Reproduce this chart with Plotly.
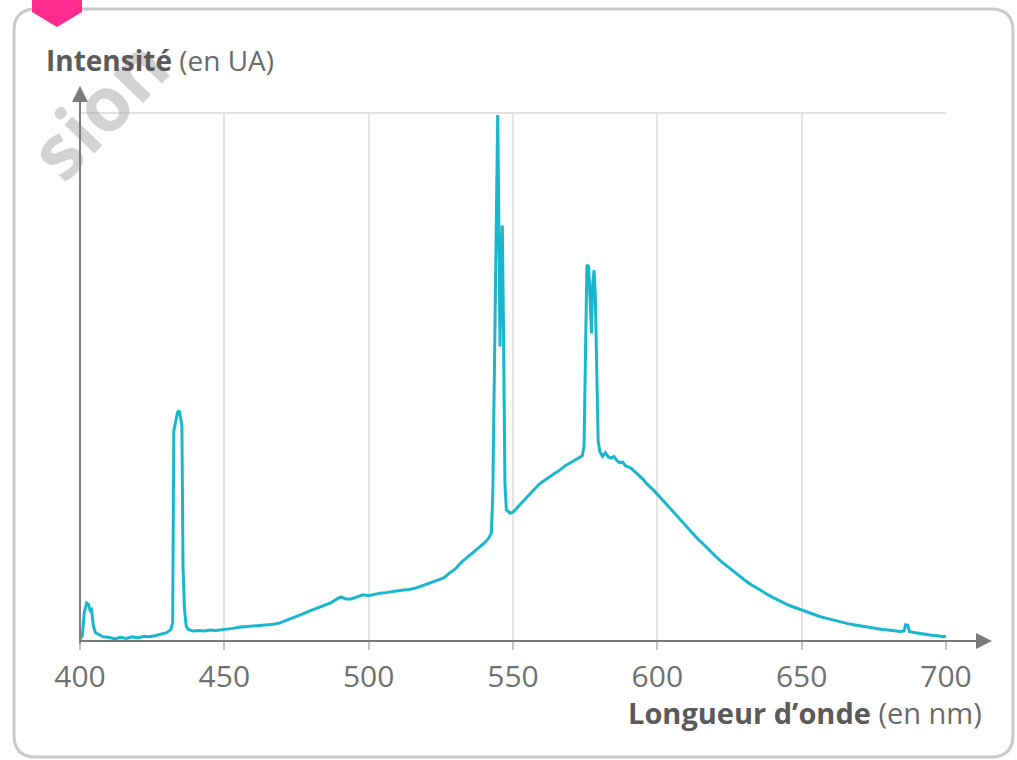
import plotly.graph_objects as go

# Wavelength (nm) and intensity (arbitrary units)
wavelength = [
    400.0, 400.8, 401.5, 402.3, 403.0, 403.5, 404.0, 404.6, 405.3, 406.5,
    408, 410, 412, 414, 416, 418, 420, 422, 424, 426, 428, 430, 431.5, 432.1,
    432.5, 433.2, 433.8, 434.4, 434.9, 435.3, 435.7, 436.2, 436.8, 437.5,
    439, 441, 443, 445, 447, 449, 451, 453, 455, 457, 459, 461, 463, 465, 467,
    469, 471, 473, 475, 477, 479, 481, 483, 485, 487, 489, 490.5, 492, 494, 496,
    498, 500, 502, 504, 506, 508, 510, 512, 514, 516, 518, 520, 522, 524, 526,
    528, 530, 532, 534, 536, 538, 540, 541.5, 542.5,
    543.0, 543.6, 544.2, 544.7, 545.1, 545.5, 545.9, 546.3, 546.7, 547.2, 547.7,
    548.3, 549, 550, 551, 552, 553, 554, 555, 556, 557, 558, 559, 560, 561, 562,
    563, 564, 565, 566, 567, 568, 569, 570, 571, 572, 573, 574,
    574.6, 575.1, 575.6, 576.2, 576.7, 577.2, 577.6, 578.1, 578.5, 579.0, 579.5,
    580.1, 581, 582, 583, 584, 585, 586, 587, 588, 589, 590, 591, 592, 593, 594,
    595, 596, 597, 598, 599, 600, 602, 604, 606, 608, 610, 612, 614, 616, 618,
    620, 622, 624, 626, 628, 630, 632, 634, 636, 638, 640, 642, 644, 646, 648,
    650, 652, 654, 656, 658, 660, 662, 664, 666, 668, 670, 672, 674, 676, 678,
    680, 682, 684, 685.5, 686.0, 686.8, 687.3, 689, 691, 693, 695, 697, 699, 700,
]
intensity = [
    0.3, 1.0, 5.5, 7.2, 6.9, 5.8, 6.0, 3.0, 1.6, 1.2,
    0.8, 0.7, 0.4, 0.7, 0.5, 0.8, 0.6, 0.9, 0.8, 1.0, 1.3, 1.6, 2.2, 3.5,
    40.0, 41.8, 43.5, 43.8, 42.5, 41.0, 14.0, 6.0, 2.8, 2.2,
    1.9, 2.0, 1.9, 2.1, 2.0, 2.1, 2.3, 2.4, 2.6, 2.7, 2.7, 2.9, 2.9, 3.1, 3.2,
    3.4, 3.8, 4.2, 4.6, 5.1, 5.6, 6.0, 6.4, 6.9, 7.3, 8.0, 8.4, 8.0, 8.0, 8.4,
    8.8, 8.6, 8.9, 9.1, 9.2, 9.4, 9.5, 9.7, 9.8, 10.0, 10.4, 10.8, 11.1, 11.6, 12.0,
    12.9, 13.7, 14.9, 15.8, 16.7, 17.7, 18.6, 19.5, 20.5,
    28.0, 55.0, 85.0, 100.0, 80.0, 56.0, 70.0, 79.0, 60.0, 30.0, 25.0,
    24.6, 24.3, 24.5, 25.1, 25.8, 26.3, 26.9, 27.4, 28.2, 28.7, 29.2, 29.8, 30.2, 30.6, 31.0,
    31.4, 31.7, 32.1, 32.4, 32.9, 33.3, 33.6, 33.9, 34.2, 34.5, 34.8, 35.2,
    37.0, 55.0, 71.5, 71.2, 63.0, 58.5, 68.0, 70.5, 66.0, 50.0, 38.0,
    36.0, 35.1, 35.8, 35.0, 34.8, 35.1, 34.3, 33.9, 34.0, 33.3, 33.1, 32.8, 32.3, 31.8, 31.3,
    30.8, 30.1, 29.6, 29.0, 28.5, 27.9, 26.8, 25.5, 24.3, 23.1, 21.7, 20.6, 19.4, 18.4, 17.2,
    16.2, 15.2, 14.3, 13.4, 12.5, 11.7, 10.9, 10.2, 9.5, 8.9, 8.3, 7.7, 7.2, 6.7, 6.3,
    5.8, 5.4, 5.0, 4.7, 4.4, 4.1, 3.8, 3.5, 3.3, 3.1, 2.9, 2.7, 2.5, 2.4, 2.2,
    2.1, 2.0, 1.8, 1.9, 3.1, 3.0, 1.8, 1.6, 1.4, 1.2, 1.1, 1.0, 0.8, 0.9,
]
x_ticks = [400, 450, 500, 550, 600, 650, 700]

FONT = "Open Sans"
AXIS_GREY = "#7b7b7b"

fig = go.Figure()
fig.add_trace(go.Scatter(
    x=wavelength, y=intensity, mode="lines",
    line=dict(color="#19B7CD", width=3),
    hoverinfo="skip", showlegend=False,
))

# helpers: convert pixel positions to paper coordinates
L, R, T, B = 80, 946, 113, 641
def px(xp):
    return (xp - L) / (R - L)
def py(yp):
    return (B - yp) / (B - T)

# outer rounded frame
x0, x1, y0, y1 = px(14), px(1013), py(757), py(9)
rx, ry = 22 / (R - L), 22 / (B - T)
frame = (f"M {x0+rx},{y1} L {x1-rx},{y1} Q {x1},{y1} {x1},{y1-ry} "
         f"L {x1},{y0+ry} Q {x1},{y0} {x1-rx},{y0} L {x0+rx},{y0} "
         f"Q {x0},{y0} {x0},{y0+ry} L {x0},{y1-ry} Q {x0},{y1} {x0+rx},{y1} Z")
shapes = [
    dict(type="path", path=frame, xref="paper", yref="paper",
         line=dict(color="#c9c9c9", width=3), layer="below"),
    dict(type="path", xref="paper", yref="paper",
         path=(f"M {px(32)},{py(-10)} L {px(82)},{py(-10)} L {px(82)},{py(12)} "
               f"L {px(57)},{py(27)} L {px(32)},{py(12)} Z"),
         fillcolor="#FF2B8E", line=dict(width=0)),
    # top border of plotting area
    dict(type="line", xref="paper", yref="paper", x0=0, x1=1, y0=1, y1=1,
         line=dict(color="#e2e2e2", width=2), layer="below"),
]

annotations = [
    # watermark fragment
    dict(x=px(98), y=py(108), xref="paper", yref="paper", showarrow=False,
         xanchor="center", yanchor="middle",
         text="<b>sion</b>", textangle=-46,
         font=dict(family=FONT, size=76, color="rgba(165,165,165,0.5)")),
    # x axis arrow
    dict(x=px(992), y=0, xref="paper", yref="paper", ax=-(992 - 78), ay=0,
         text="", showarrow=True, arrowhead=2, arrowsize=1.6, arrowwidth=2,
         arrowcolor=AXIS_GREY),
    # y axis arrow
    dict(x=0, y=py(86), xref="paper", yref="paper", ax=0, ay=(645 - 86),
         text="", showarrow=True, arrowhead=2, arrowsize=1.6, arrowwidth=2,
         arrowcolor=AXIS_GREY),
    dict(x=px(44), y=py(60), xref="paper", yref="paper", xanchor="left",
         yanchor="middle", showarrow=False,
         text="<b><span style='color:#5a5a5a'>Intensité</span></b> (en UA)",
         font=dict(family=FONT, size=28, color="#6a6a6a")),
    dict(x=px(984), y=py(712), xref="paper", yref="paper", xanchor="right",
         yanchor="middle", showarrow=False,
         text="<b><span style='color:#5a5a5a'>Longueur d’onde</span></b> (en nm)",
         font=dict(family=FONT, size=29, color="#6a6a6a")),
]

fig.update_layout(
    width=1017, height=760,
    margin=dict(l=L, r=1017 - R, t=T, b=760 - B),
    paper_bgcolor="white", plot_bgcolor="white",
    shapes=shapes, annotations=annotations,
    xaxis=dict(range=[400, 700], tickvals=x_ticks, ticktext=[str(v) for v in x_ticks],
               showgrid=True, gridcolor="#e4e4e4", gridwidth=2,
               zeroline=False, showline=False,
               ticks="outside", ticklen=8, tickwidth=2, tickcolor="#c4c4c4",
               ticklabelstandoff=1,
               tickfont=dict(family=FONT, size=30, color="#707070")),
    yaxis=dict(range=[0, 100.4], showgrid=False, zeroline=False,
               showticklabels=False, ticks="", showline=False),
)

fig.write_html("out.html", config={"displayModeBar": False},
               post_script="document.body.style.margin='0';document.body.style.overflow='hidden';")
